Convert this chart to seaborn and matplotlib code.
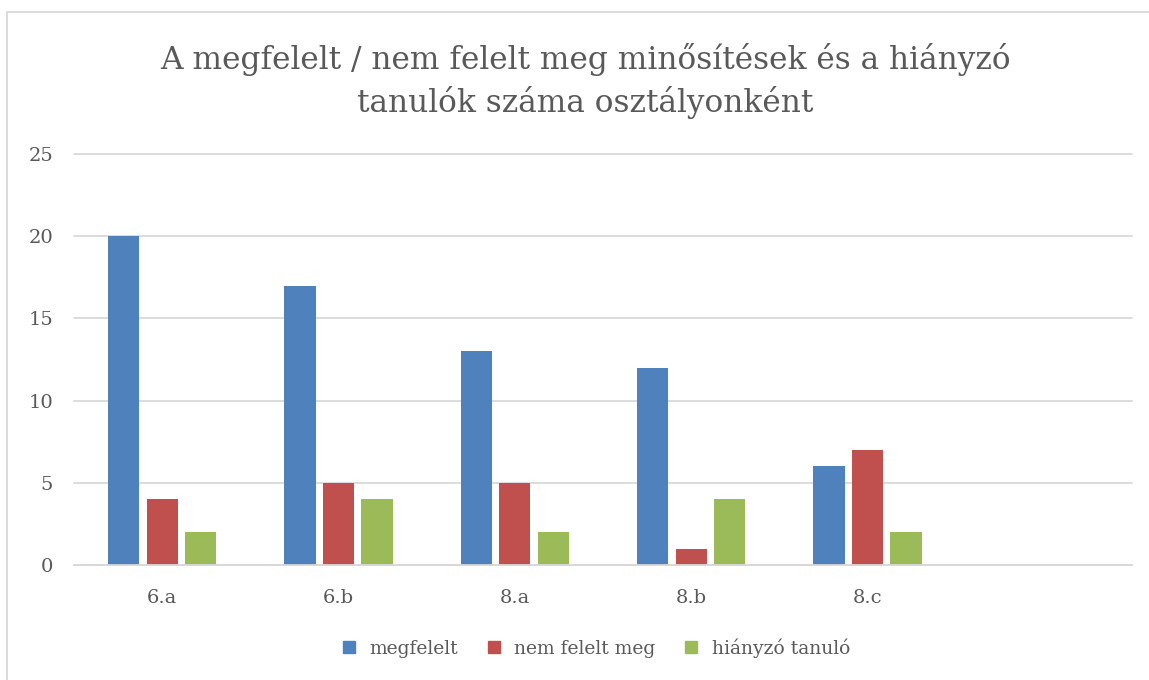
import matplotlib
matplotlib.use("Agg")
import matplotlib.pyplot as plt
import seaborn as sns
import pandas as pd
from matplotlib.lines import Line2D

categories = ["6.a", "6.b", "8.a", "8.b", "8.c"]
megfelelt = [20, 17, 13, 12, 6]
nem_felelt_meg = [4, 5, 5, 1, 7]
hianyzo = [2, 4, 2, 4, 2]
series_names = ["megfelelt", "nem felelt meg", "hiányzó tanuló"]
colors = ["#4F81BD", "#C0504D", "#9BBB59"]
yticks = [0, 5, 10, 15, 20, 25]
title = "A megfelelt / nem felelt meg minősítések és a hiányzó\ntanulók száma osztályonként"

rows = []
for name, vals in zip(series_names, [megfelelt, nem_felelt_meg, hianyzo]):
    for c, v in zip(categories, vals):
        rows.append({"cat": c, "series": name, "value": v})
df = pd.DataFrame(rows)

sns.set_theme(style="white")
plt.rcParams['font.family'] = ['DejaVu Serif']
txt = "#595959"

fig = plt.figure(figsize=(11.49, 6.80), dpi=100)
ax = fig.add_axes([74/1149, 1 - 565/680, (1132-74)/1149, (565-154)/680])

order = categories + [" "]
sns.barplot(data=df, x="cat", y="value", hue="series", order=order,
            hue_order=series_names, palette=colors, width=0.654, gap=0.19,
            saturation=1, ax=ax, legend=False, edgecolor="none")

ax.set_ylim(0, 25)
ax.set_xlim(-0.5, 5.5)
ax.set_yticks(yticks)
ax.yaxis.grid(True, color="#D9D9D9", linewidth=1.3)
for gl in ax.get_ygridlines():
    gl.set_clip_on(False)
ax.set_axisbelow(True)
for s in ["top", "right", "left"]:
    ax.spines[s].set_visible(False)
ax.spines["bottom"].set_color("#D9D9D9")
ax.spines["bottom"].set_linewidth(1.3)
ax.set_xlabel("")
ax.set_ylabel("")
ax.tick_params(axis="both", length=0, labelsize=14, colors=txt)
ax.tick_params(axis="y", pad=15)
ax.tick_params(axis="x", pad=17)
ax.set_xticks(range(6))
ax.set_xticklabels(order)

fig.text(585/1149, 1 - 81/680, title, ha="center", va="center",
         fontsize=22.5, color=txt, linespacing=1.35)

handles = [Line2D([0], [0], marker="s", linestyle="none", markersize=9,
                  markerfacecolor=c, markeredgecolor=c) for c in colors]
fig.legend(handles, series_names, loc="center", bbox_to_anchor=(590/1149, 1 - 648/680),
           ncol=3, frameon=False, fontsize=13.5, labelcolor=txt,
           handletextpad=0.1, columnspacing=0.9)

# outer chart border (top and left visible)
fig.add_artist(Line2D([7/1149, 1.01], [1 - 12/680, 1 - 12/680], transform=fig.transFigure,
                      color="#D9D9D9", linewidth=1.3))
fig.add_artist(Line2D([7/1149, 7/1149], [-0.01, 1 - 12/680], transform=fig.transFigure,
                      color="#D9D9D9", linewidth=1.3))

fig.savefig("out.png", dpi=100, facecolor="white")
